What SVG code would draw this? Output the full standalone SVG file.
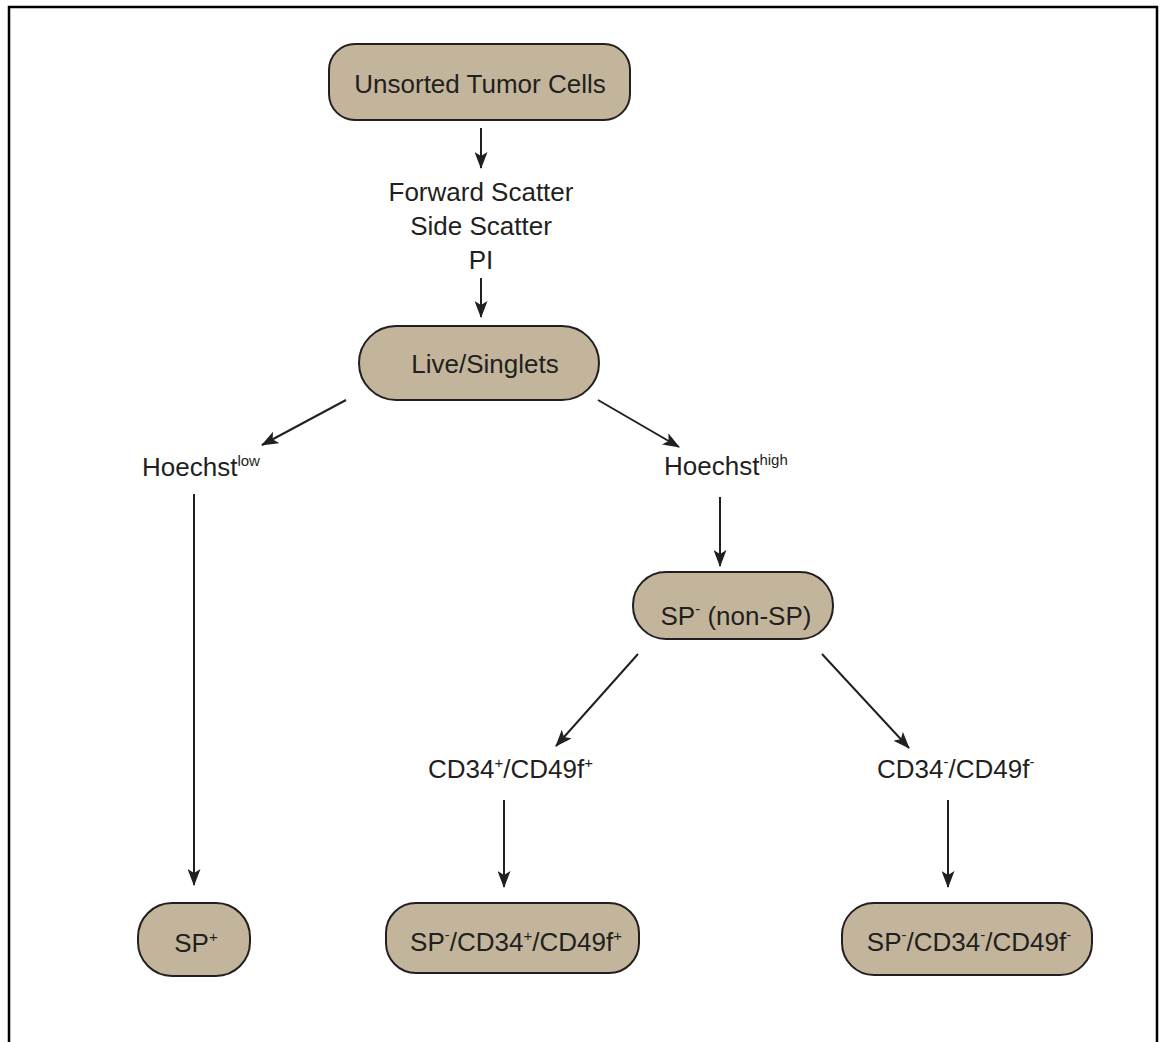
<svg xmlns="http://www.w3.org/2000/svg" width="1163" height="1042" viewBox="0 0 1163 1042">
<style>
.node rect{fill:#c3b59b;stroke:#231f20;stroke-width:2}
text{font-family:"Liberation Sans",Arial,sans-serif;font-size:26px;fill:#231f20}
.c{text-anchor:middle}
.sup{font-size:15px}
.conn line{stroke:#231f20;stroke-width:2;marker-end:url(#ah)}
</style>
<defs>
<marker id="ah" viewBox="0 0 17 13" refX="16" refY="6.5" markerWidth="17" markerHeight="13" markerUnits="userSpaceOnUse" orient="auto">
<path d="M0,0 L17,6.5 L0,13 L4,6.5 Z" fill="#231f20"/>
</marker>
</defs>
<rect width="1163" height="1042" fill="#fff"/>
<path d="M9,1042 V7 H1157 V1042" fill="none" stroke="#000" stroke-width="2.5"/>

<g id="n-unsorted" class="node">
<rect x="329" y="44" width="301" height="76" rx="26"/>
<text class="c" x="480" y="93">Unsorted Tumor Cells</text>
</g>
<g id="l-scatter">
<text class="c" x="481" y="201">Forward Scatter</text>
<text class="c" x="481" y="235">Side Scatter</text>
<text class="c" x="481" y="269">PI</text>
</g>
<g id="n-live" class="node">
<rect x="359" y="326" width="240" height="74" rx="37"/>
<text class="c" x="485" y="373">Live/Singlets</text>
</g>
<g id="l-hlow">
<text x="142" y="476">Hoechst<tspan class="sup" dy="-10">low</tspan></text>
</g>
<g id="l-hhigh">
<text x="664" y="475">Hoechst<tspan class="sup" dy="-10">high</tspan></text>
</g>
<g id="n-nonsp" class="node">
<rect x="633" y="572" width="200" height="67" rx="33"/>
<text class="c" x="736" y="625">SP<tspan class="sup" dy="-11">-</tspan><tspan dy="11"> (non-SP)</tspan></text>
</g>
<g id="l-cdpos">
<text x="428" y="778">CD34<tspan class="sup" dy="-10">+</tspan><tspan dy="10">/CD49f</tspan><tspan class="sup" dy="-10">+</tspan></text>
</g>
<g id="l-cdneg">
<text x="877" y="778">CD34<tspan class="sup" dy="-11">-</tspan><tspan dy="11">/CD49f</tspan><tspan class="sup" dy="-11">-</tspan></text>
</g>
<g id="n-spplus" class="node">
<rect x="138" y="903" width="112" height="73" rx="34"/>
<text class="c" x="196" y="952">SP<tspan class="sup" dy="-10">+</tspan></text>
</g>
<g id="n-sppos" class="node">
<rect x="386" y="903" width="253" height="70" rx="30"/>
<text class="c" x="516" y="951">SP<tspan class="sup" dy="-11">-</tspan><tspan dy="11">/CD34</tspan><tspan class="sup" dy="-10">+</tspan><tspan dy="10">/CD49f</tspan><tspan class="sup" dy="-10">+</tspan></text>
</g>
<g id="n-spneg" class="node">
<rect x="842" y="903" width="250" height="72" rx="32"/>
<text class="c" x="969" y="951">SP<tspan class="sup" dy="-11">-</tspan><tspan dy="11">/CD34</tspan><tspan class="sup" dy="-11">-</tspan><tspan dy="11">/CD49f</tspan><tspan class="sup" dy="-11">-</tspan></text>
</g>

<g id="connectors" class="conn">
<line x1="481" y1="128" x2="481" y2="168"/>
<line x1="481" y1="278" x2="481" y2="317"/>
<line x1="346" y1="400" x2="262" y2="445"/>
<line x1="598" y1="400" x2="679" y2="447"/>
<line x1="194" y1="494" x2="194" y2="885"/>
<line x1="720" y1="497" x2="720" y2="566"/>
<line x1="638" y1="654" x2="556" y2="746"/>
<line x1="822" y1="654" x2="909" y2="748"/>
<line x1="504" y1="800" x2="504" y2="887"/>
<line x1="948" y1="800" x2="948" y2="887"/>
</g>
</svg>
